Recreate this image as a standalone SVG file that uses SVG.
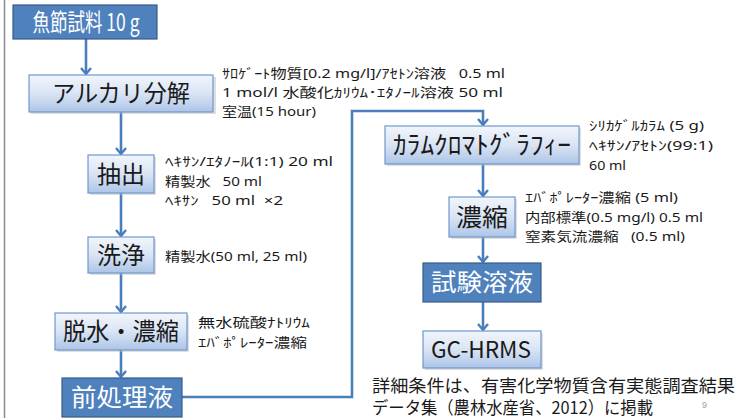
<svg xmlns="http://www.w3.org/2000/svg" width="743" height="418" viewBox="0 0 743 418">
<style>
.dark{fill:#4f81bd;stroke:#385d8a;stroke-width:1.2}
.light{fill:url(#lg);stroke:#6f97cf;stroke-width:1.2}
.shadow{fill:#b8b8b8;opacity:0.45}
.bt{font-family:"Noto Sans CJK JP","Noto Sans",sans-serif;text-anchor:middle}
.wt{fill:#ffffff}
.kt{fill:#1a1a1a}
.ann{font-family:"Noto Sans","Noto Sans CJK JP",sans-serif;font-size:13px;fill:#1a1a1a;white-space:pre}
.con{fill:none;stroke:#4a7ebb;stroke-width:2.6}
</style>
<defs>
<linearGradient id="lg" x1="0" y1="0" x2="0" y2="1">
<stop offset="0" stop-color="#f2f6fc"/>
<stop offset="0.5" stop-color="#d9e4f4"/>
<stop offset="1" stop-color="#adc5e7"/>
</linearGradient>
<marker id="ah" markerWidth="12" markerHeight="12" refX="10" refY="6" orient="auto" markerUnits="userSpaceOnUse">
<path d="M4,1 L10,6 L4,11" fill="none" stroke="#4a7ebb" stroke-width="2.4"/>
</marker>
</defs>
<rect width="743" height="418" fill="#ffffff"/>
<line x1="4.5" y1="0" x2="4.5" y2="418" stroke="#8c8c8c" stroke-width="1.5"/>

<g id="connectors">
<line class="con" x1="86" y1="39" x2="86" y2="74" marker-end="url(#ah)"/>
<line class="con" x1="121" y1="112" x2="121" y2="154" marker-end="url(#ah)"/>
<line class="con" x1="121" y1="193" x2="121" y2="236" marker-end="url(#ah)"/>
<line class="con" x1="121" y1="273" x2="121" y2="312" marker-end="url(#ah)"/>
<line class="con" x1="121" y1="350" x2="121" y2="377" marker-end="url(#ah)"/>
<polyline class="con" points="182,397 352,397 352,111 483,111 483,125" marker-end="url(#ah)"/>
<line class="con" x1="483" y1="164" x2="483" y2="196" marker-end="url(#ah)"/>
<line class="con" x1="483" y1="237" x2="483" y2="262" marker-end="url(#ah)"/>
<line class="con" x1="483" y1="302" x2="483" y2="330" marker-end="url(#ah)"/>
</g>

<g id="n1">
<rect class="dark" x="13" y="5" width="144" height="34"/>
<text class="bt wt" x="86" y="31" font-size="24" textLength="107" lengthAdjust="spacingAndGlyphs">魚節試料 10 g</text>
</g>
<g id="n2">
<rect class="shadow" x="31" y="77" width="185" height="37"/>
<rect class="light" x="29" y="75" width="184" height="37"/>
<text class="bt kt" x="121" y="102" font-size="24" textLength="138" lengthAdjust="spacingAndGlyphs">アルカリ分解</text>
</g>
<g id="n3">
<rect class="shadow" x="90" y="157" width="66" height="38"/>
<rect class="light" x="88" y="155" width="66" height="38"/>
<text class="bt kt" x="121" y="183" font-size="24" textLength="48" lengthAdjust="spacingAndGlyphs">抽出</text>
</g>
<g id="n4">
<rect class="shadow" x="90" y="239" width="66" height="36"/>
<rect class="light" x="88" y="237" width="66" height="36"/>
<text class="bt kt" x="121" y="264" font-size="24" textLength="48" lengthAdjust="spacingAndGlyphs">洗浄</text>
</g>
<g id="n5">
<rect class="shadow" x="57" y="315" width="132" height="37"/>
<rect class="light" x="55" y="313" width="132" height="37"/>
<text class="bt kt" x="121" y="340" font-size="24" textLength="116" lengthAdjust="spacingAndGlyphs">脱水・濃縮</text>
</g>
<g id="n6">
<rect class="dark" x="62" y="378" width="120" height="39"/>
<text class="bt wt" x="122" y="406" font-size="24" textLength="102" lengthAdjust="spacingAndGlyphs">前処理液</text>
</g>
<g id="n7">
<rect class="shadow" x="387" y="128" width="194" height="38"/>
<rect class="light" x="385" y="126" width="194" height="38"/>
<text class="bt kt" x="482" y="154" font-size="25" textLength="178" lengthAdjust="spacingAndGlyphs">ｶﾗﾑｸﾛﾏﾄｸﾞﾗﾌｨｰ</text>
</g>
<g id="n8">
<rect class="shadow" x="451" y="199" width="66" height="40"/>
<rect class="light" x="449" y="197" width="66" height="40"/>
<text class="bt kt" x="482" y="226" font-size="24" textLength="52" lengthAdjust="spacingAndGlyphs">濃縮</text>
</g>
<g id="n9">
<rect class="dark" x="423" y="263" width="118" height="39"/>
<text class="bt wt" x="482" y="291" font-size="24" textLength="102" lengthAdjust="spacingAndGlyphs">試験溶液</text>
</g>
<g id="n10">
<rect class="shadow" x="425" y="333" width="118" height="37"/>
<rect class="light" x="423" y="331" width="118" height="37"/>
<text class="bt kt" x="481" y="358" font-size="23" font-family="'Noto Sans',sans-serif" textLength="100" lengthAdjust="spacingAndGlyphs">GC-HRMS</text>
</g>

<g id="annotations">
<text class="ann" x="222" y="78" textLength="283" lengthAdjust="spacingAndGlyphs">ｻﾛｹﾞｰﾄ物質[0.2 mg/l]/ｱｾﾄﾝ溶液   0.5 ml</text>
<text class="ann" x="222" y="97" textLength="281" lengthAdjust="spacingAndGlyphs">1 mol/l 水酸化ｶﾘｳﾑ･ｴﾀﾉｰﾙ溶液 50 ml</text>
<text class="ann" x="222" y="116" textLength="94" lengthAdjust="spacingAndGlyphs">室温(15 hour)</text>
<text class="ann" x="165" y="166" textLength="168" lengthAdjust="spacingAndGlyphs">ﾍｷｻﾝ/ｴﾀﾉｰﾙ(1:1) 20 ml</text>
<text class="ann" x="165" y="186" textLength="97" lengthAdjust="spacingAndGlyphs">精製水   50 ml</text>
<text class="ann" x="165" y="205" textLength="118" lengthAdjust="spacingAndGlyphs">ﾍｷｻﾝ   50 ml  ×2</text>
<text class="ann" x="165" y="261" textLength="142" lengthAdjust="spacingAndGlyphs">精製水(50 ml, 25 ml)</text>
<text class="ann" x="198" y="327" textLength="112" lengthAdjust="spacingAndGlyphs">無水硫酸ﾅﾄﾘｳﾑ</text>
<text class="ann" x="198" y="347" textLength="109" lengthAdjust="spacingAndGlyphs">ｴﾊﾞﾎﾟﾚｰﾀｰ濃縮</text>
<text class="ann" x="589" y="130" textLength="115" lengthAdjust="spacingAndGlyphs">ｼﾘｶｹﾞﾙｶﾗﾑ (5 g)</text>
<text class="ann" x="589" y="150" textLength="124" lengthAdjust="spacingAndGlyphs">ﾍｷｻﾝ/ｱｾﾄﾝ(99:1)</text>
<text class="ann" x="589" y="170" textLength="37" lengthAdjust="spacingAndGlyphs">60 ml</text>
<text class="ann" x="525" y="202" textLength="153" lengthAdjust="spacingAndGlyphs">ｴﾊﾞﾎﾟﾚｰﾀｰ濃縮 (5 ml)</text>
<text class="ann" x="525" y="222" textLength="178" lengthAdjust="spacingAndGlyphs">内部標準(0.5 mg/l) 0.5 ml</text>
<text class="ann" x="525" y="241" textLength="160" lengthAdjust="spacingAndGlyphs">窒素気流濃縮   (0.5 ml)</text>
</g>

<g id="note">
<text x="372" y="392" font-family="'Noto Sans CJK JP',sans-serif" font-size="17.5" fill="#1a1a1a" textLength="363" lengthAdjust="spacingAndGlyphs">詳細条件は、有害化学物質含有実態調査結果</text>
<text x="372" y="414" font-family="'Noto Sans CJK JP',sans-serif" font-size="17.5" fill="#1a1a1a" textLength="281" lengthAdjust="spacingAndGlyphs">データ集（農林水産省、2012）に掲載</text>
<text x="702" y="408" font-family="'Liberation Sans',sans-serif" font-size="9" fill="#a0a0a0">9</text>
</g>
</svg>
